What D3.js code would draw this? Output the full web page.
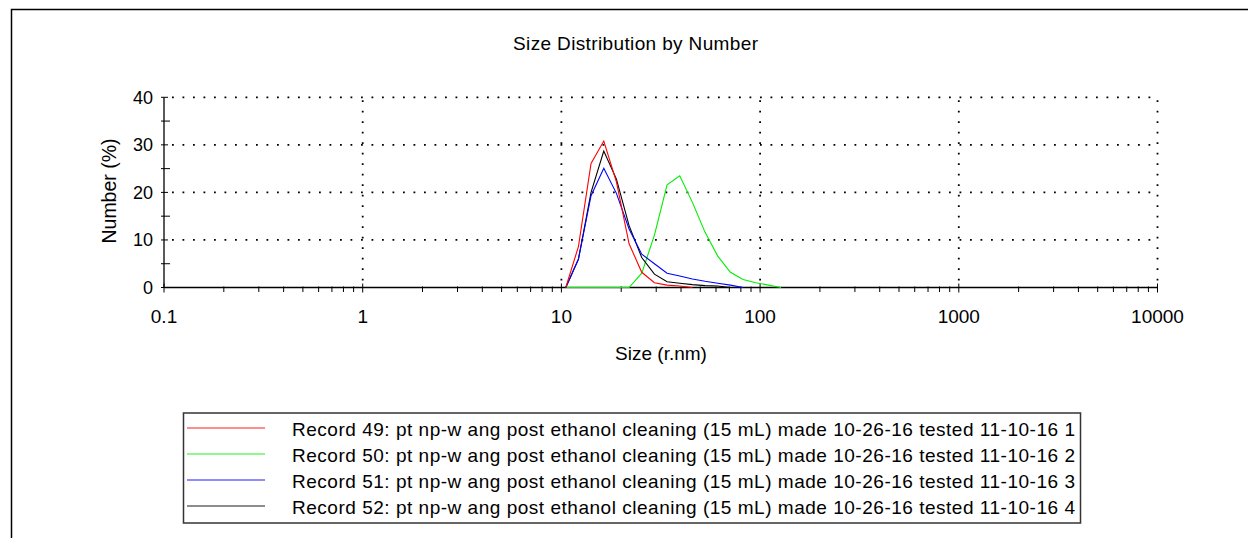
<!DOCTYPE html>
<html><head><meta charset="utf-8">
<script src="https://cdn.jsdelivr.net/npm/d3@7"></script>
<style>
html,body{margin:0;padding:0;background:#fff;}
svg{display:block;font-family:"Liberation Sans",Arial,sans-serif;}
</style></head>
<body><svg id="c" width="1248" height="538"></svg>
<script>
// ---- data ----
const sizes = [10.52, 12.18, 14.10, 16.34, 18.92, 21.91, 25.37, 29.39, 34.03, 39.41, 45.64, 52.85, 61.21, 70.89, 82.10, 95.07, 110.1, 127.5];
const record49 = [0, 8.6, 26.1, 30.8, 22.2, 9.2, 3.2, 1.0, 0.5, 0.3, 0, null, null, null, null, null, null, null];
const record50 = [0, 0, 0, 0, 0, 0, 3.0, 11.0, 21.6, 23.5, 17.9, 11.6, 6.6, 3.2, 1.7, 1.0, 0.5, 0];
const record51 = [0, 6.0, 19.3, 25.1, 19.8, 12.3, 7.0, 5.0, 3.0, 2.4, 1.8, 1.3, 0.9, 0.5, 0, null, null, null];
const record52 = [0, 5.9, 20.0, 28.7, 22.8, 13.0, 6.3, 2.8, 1.2, 0.9, 0.6, 0.4, 0.3, 0, null, null, null, null];
const seriesNames = [
  "Record 49: pt np-w ang post ethanol cleaning (15 mL) made 10-26-16 tested 11-10-16 1",
  "Record 50: pt np-w ang post ethanol cleaning (15 mL) made 10-26-16 tested 11-10-16 2",
  "Record 51: pt np-w ang post ethanol cleaning (15 mL) made 10-26-16 tested 11-10-16 3",
  "Record 52: pt np-w ang post ethanol cleaning (15 mL) made 10-26-16 tested 11-10-16 4"
];
const seriesColors = ["#ff0000", "#00ee00", "#0000ff", "#000000"];
const xTickValues = [0.1, 1, 10, 100, 1000, 10000];
const xTickLabels = ["0.1", "1", "10", "100", "1000", "10000"];
const yTickValues = [0, 10, 20, 30, 40];
const yTickLabels = ["0", "10", "20", "30", "40"];
const titleText = "Size Distribution by Number";
const xTitle = "Size (r.nm)";
const yTitle = "Number (%)";

// ---- chart ----
const svg = d3.select("#c");
const x = d3.scaleLog().domain([0.1, 10000]).range([164, 1157.5]);
const y = d3.scaleLinear().domain([0, 40]).range([287.5, 97.3]);
const x0 = x.range()[0], x1 = x.range()[1], y0 = y.range()[0], y1 = y.range()[1];

// outer frame
svg.append("path").attr("d", `M11.5,538 L11.5,9.5 L1248,9.5`).attr("fill", "none").attr("stroke", "#000").attr("stroke-width", 1.5);

// title
svg.append("text").attr("x", 635.5).attr("y", 50).attr("text-anchor", "middle")
  .attr("font-size", 19).attr("textLength", 245).attr("lengthAdjust", "spacing").text(titleText);

// grid (dotted)
const grid = svg.append("g").attr("stroke", "#000").attr("stroke-width", 1.8).attr("stroke-dasharray", "1.8 8.7");
yTickValues.filter(v => v > 0).forEach(v => {
  grid.append("line").attr("x1", x0 + 8).attr("x2", x1).attr("y1", y(v)).attr("y2", y(v));
});
xTickValues.filter(v => v > 0.1).forEach(v => {
  grid.append("line").attr("x1", x(v)).attr("x2", x(v)).attr("y1", y1 + 3).attr("y2", y0 - 4);
});

// axes lines
svg.append("line").attr("x1", x0).attr("x2", x0).attr("y1", y1).attr("y2", y0).attr("stroke", "#000").attr("stroke-width", 1.3);
svg.append("line").attr("x1", x0).attr("x2", x1).attr("y1", y0).attr("y2", y0).attr("stroke", "#000").attr("stroke-width", 1.3);

// y ticks
const ty = svg.append("g").attr("stroke", "#000").attr("stroke-width", 1);
d3.range(0, 41, 5).forEach(v => {
  const major = v % 10 === 0;
  ty.append("line").attr("x1", x0 - 3).attr("x2", x0 + (major ? 4 : 6)).attr("y1", y(v)).attr("y2", y(v));
});
yTickValues.forEach((v, i) => {
  svg.append("text").attr("x", 153).attr("y", y(v)).attr("dy", "0.36em").attr("text-anchor", "end")
    .attr("font-size", 18).text(yTickLabels[i]);
});

// x ticks (log minor)
const tx = svg.append("g").attr("stroke", "#000").attr("stroke-width", 1);
for (let d = 0.1; d < 10000; d *= 10) {
  for (let k = 2; k <= 9; k++) {
    const v = d * k;
    tx.append("line").attr("x1", x(v)).attr("x2", x(v)).attr("y1", y0 - 1).attr("y2", y0 + 4.5);
  }
}
xTickValues.forEach((v, i) => {
  tx.append("line").attr("x1", x(v)).attr("x2", x(v)).attr("y1", y0 - 4).attr("y2", y0 + 5);
  svg.append("text").attr("x", x(v)).attr("y", 323).attr("text-anchor", "middle")
    .attr("font-size", 19).text(xTickLabels[i]);
});

// axis titles
svg.append("text").attr("x", 661).attr("y", 360).attr("text-anchor", "middle").attr("font-size", 19).text(xTitle);
svg.append("text").attr("transform", "translate(116,191) rotate(-90)").attr("text-anchor", "middle")
  .attr("font-size", 19.5).text(yTitle);

// series
const allSeries = [record49, record50, record51, record52];
const line = d3.line().defined(d => d[1] !== null).x(d => x(d[0])).y(d => y(d[1]));
const drawOrder = [1, 3, 2, 0];
drawOrder.forEach(si => {
  const pts = sizes.map((s, j) => [s, allSeries[si][j]]);
  svg.append("path").datum(pts).attr("d", line).attr("fill", "none")
    .attr("stroke", seriesColors[si]).attr("stroke-width", 1.1).attr("stroke-linejoin", "miter");
});

// legend
const lg = svg.append("g");
lg.append("rect").attr("x", 183.5).attr("y", 413).attr("width", 897).attr("height", 110)
  .attr("fill", "#fff").attr("stroke", "#333").attr("stroke-width", 1.5);
seriesNames.forEach((name, i) => {
  const ly = 428 + i * 26;
  lg.append("line").attr("x1", 187).attr("x2", 265).attr("y1", ly).attr("y2", ly)
    .attr("stroke", seriesColors[i]).attr("stroke-width", 1.5).attr("stroke-opacity", 0.6);
  lg.append("text").attr("x", 292).attr("y", ly + 8).attr("font-size", 19)
    .attr("textLength", 783).attr("lengthAdjust", "spacing").text(name);
});
</script>
</body></html>
